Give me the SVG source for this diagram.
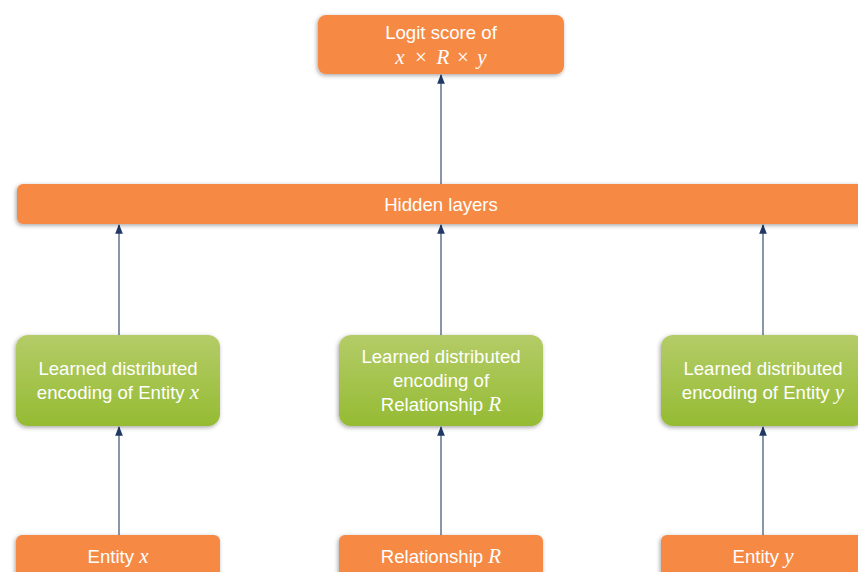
<svg xmlns="http://www.w3.org/2000/svg" width="858" height="572" viewBox="0 0 858 572">
  <defs>
    <linearGradient id="green" x1="0" y1="0" x2="0" y2="1">
      <stop offset="0" stop-color="#B4CC68"/>
      <stop offset="1" stop-color="#95BB33"/>
    </linearGradient>
    <filter id="shadow" x="-10%" y="-20%" width="120%" height="150%">
      <feDropShadow dx="-1" dy="1.5" stdDeviation="2" flood-color="#000" flood-opacity="0.35"/>
    </filter>
    <marker id="arrow" viewBox="0 0 10 10" refX="9" refY="5" markerWidth="8" markerHeight="8" orient="auto">
      <path d="M0,1 L10,5 L0,9 z" fill="#1F3864"/>
    </marker>
  </defs>
  <style>
    .orange { fill: #F68A45; filter: url(#shadow); }
    .green { fill: url(#green); filter: url(#shadow); }
    .label { font-family: "Liberation Sans", Arial, sans-serif; font-size: 18.6px; fill: #FFFFFF; text-anchor: middle; }
    .math { font-family: "Liberation Serif", "Times New Roman", serif; font-style: italic; font-size: 21px; }
    .mathop { font-family: "Liberation Serif", "Times New Roman", serif; font-size: 21px; }
    .mathrow { font-family: "Liberation Serif", "Times New Roman", serif; font-size: 21px; fill: #FFFFFF; text-anchor: middle; }
    .edge { stroke: #3A5070; stroke-width: 1.2; fill: none; marker-end: url(#arrow); }
  </style>

  <!-- connectors -->
  <g id="connectors">
    <line class="edge" x1="441" y1="184" x2="441" y2="75"/>
    <line class="edge" x1="119" y1="335" x2="119" y2="225"/>
    <line class="edge" x1="441" y1="335" x2="441" y2="225"/>
    <line class="edge" x1="763" y1="335" x2="763" y2="225"/>
    <line class="edge" x1="119" y1="535" x2="119" y2="427"/>
    <line class="edge" x1="441" y1="535" x2="441" y2="427"/>
    <line class="edge" x1="763" y1="535" x2="763" y2="427"/>
  </g>

  <!-- output score -->
  <g id="logit">
    <rect class="orange" x="318" y="15" width="246" height="59" rx="8"/>
    <text class="label" x="441" y="39">Logit score of</text>
    <text class="mathrow" y="64"><tspan x="400" font-style="italic">x</tspan><tspan x="421">×</tspan><tspan x="443" font-style="italic">R</tspan><tspan x="463">×</tspan><tspan x="482" font-style="italic">y</tspan></text>
  </g>

  <!-- hidden layers -->
  <g id="hidden">
    <rect class="orange" x="17" y="184" width="860" height="40" rx="6"/>
    <text class="label" x="441" y="211">Hidden layers</text>
  </g>

  <!-- learned encodings -->
  <g id="enc-x">
    <rect class="green" x="16" y="335" width="204" height="91" rx="12"/>
    <text class="label" x="118" y="375">Learned distributed</text>
    <text class="label" x="118" y="399">encoding of Entity <tspan class="math">x</tspan></text>
  </g>
  <g id="enc-r">
    <rect class="green" x="339" y="335" width="204" height="91" rx="12"/>
    <text class="label" x="441" y="363">Learned distributed</text>
    <text class="label" x="441" y="387">encoding of</text>
    <text class="label" x="441" y="411">Relationship <tspan class="math">R</tspan></text>
  </g>
  <g id="enc-y">
    <rect class="green" x="661" y="335" width="204" height="91" rx="12"/>
    <text class="label" x="763" y="375">Learned distributed</text>
    <text class="label" x="763" y="399">encoding of Entity <tspan class="math">y</tspan></text>
  </g>

  <!-- inputs -->
  <g id="in-x">
    <rect class="orange" x="16" y="535" width="204" height="50" rx="6"/>
    <text class="label" x="118" y="563">Entity <tspan class="math">x</tspan></text>
  </g>
  <g id="in-r">
    <rect class="orange" x="339" y="535" width="204" height="50" rx="6"/>
    <text class="label" x="441" y="563">Relationship <tspan class="math">R</tspan></text>
  </g>
  <g id="in-y">
    <rect class="orange" x="661" y="535" width="204" height="50" rx="6"/>
    <text class="label" x="763" y="563">Entity <tspan class="math">y</tspan></text>
  </g>
</svg>
